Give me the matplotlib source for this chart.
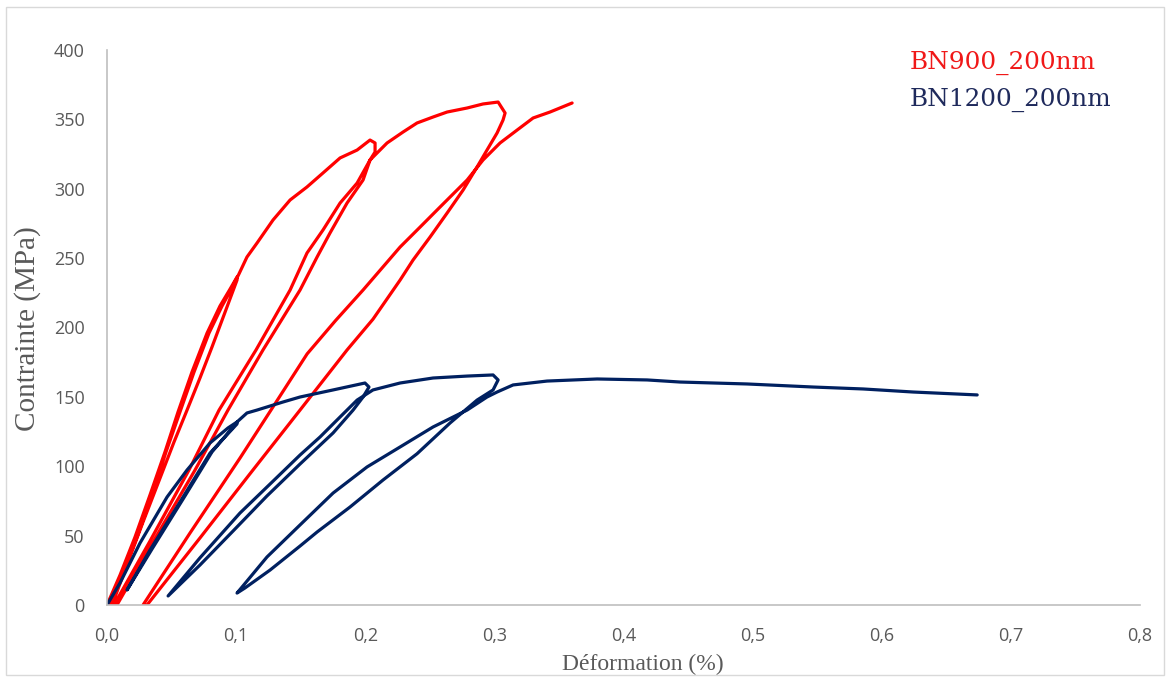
import matplotlib
matplotlib.use('Agg')
import matplotlib.pyplot as plt
from matplotlib.patches import Rectangle

# BN900_200nm : strain (%) and stress (MPa), in the order the test was run
bn900_strain = [
    # load 1
    0.0000, 0.0101, 0.0217, 0.0333, 0.0449, 0.0550, 0.0658, 0.0775, 0.0875, 0.0953, 0.1007,
    # unload 1
    0.1007, 0.0906, 0.0813, 0.0720, 0.0620, 0.0519, 0.0411, 0.0279, 0.0163, 0.0039,
    # reload up to peak 2
    0.0023, 0.0116, 0.0232, 0.0349, 0.0457, 0.0565, 0.0674, 0.0790, 0.0891, 0.0968, 0.1022,
    0.1084, 0.1162, 0.1286, 0.1418, 0.1549, 0.1673, 0.1805, 0.1937, 0.2037, 0.2076, 0.2076,
    # unload 2
    0.2037, 0.1983, 0.1859, 0.1727, 0.1627, 0.1495, 0.1208, 0.0937, 0.0682, 0.0411, 0.0077,
    # reload up to peak 3
    0.0054, 0.0333, 0.0635, 0.0868, 0.1154, 0.1418, 0.1549, 0.1673, 0.1805, 0.1937, 0.2037,
    0.2169, 0.2293, 0.2401, 0.2525, 0.2634, 0.2789, 0.2912, 0.3029, 0.3083,
    # unload 3
    0.3067, 0.3021, 0.2943, 0.2866, 0.2758, 0.2634, 0.2502, 0.2370, 0.2270, 0.2060, 0.1859,
    0.1495, 0.1100, 0.0720, 0.0310,
    # reload to the end
    0.0279, 0.0643, 0.1030, 0.1270, 0.1550, 0.1770, 0.1983, 0.2270, 0.2425, 0.2579, 0.2789,
    0.2912, 0.3044, 0.3176, 0.3300, 0.3431, 0.3602,
]
bn900_stress = [
    0.0, 21.6, 49.0, 79.3, 110.3, 139.1, 167.9, 196.0, 215.5, 227.7, 236.4,
    234.2, 209.0, 185.9, 163.6, 140.5, 117.5, 91.5, 59.8, 31.0, 0.0,
    0.0, 21.6, 49.0, 79.3, 110.3, 139.1, 167.9, 196.0, 215.5, 228.5, 238.6,
    250.8, 260.9, 277.5, 291.9, 301.3, 311.4, 322.2, 327.9, 335.1, 333.0, 326.5,
    320.7, 306.3, 289.7, 268.1, 250.8, 227.0, 183.8, 140.5, 97.3, 54.1, 0.0,
    0.0, 46.1, 97.3, 140.5, 183.8, 227.0, 253.7, 270.3, 289.7, 304.1, 320.7,
    333.0, 340.9, 347.4, 351.7, 355.3, 358.2, 361.1, 362.5, 354.6,
    349.5, 340.2, 327.9, 315.7, 299.1, 282.5, 265.2, 248.6, 234.2, 206.0, 183.8,
    140.5, 93.7, 48.3, 0.0,
    0.0, 51.9, 105.9, 140.5, 181.0, 205.0, 227.0, 258.0, 272.4, 286.8, 306.3,
    320.7, 333.0, 342.3, 351.0, 355.3, 361.8,
]

# BN1200_200nm
bn1200_strain = [
    # load 1
    0.0000, 0.0101, 0.0256, 0.0465, 0.0620, 0.0798, 0.0937, 0.1007,
    # unload 1
    0.1007, 0.0798, 0.0589, 0.0333, 0.0155,
    # reload up to peak 2
    0.0349, 0.0604, 0.0813, 0.1015, 0.1084, 0.1162, 0.1363, 0.1495, 0.1751, 0.1998, 0.2029,
    # unload 2
    0.1983, 0.1906, 0.1751, 0.1495, 0.1239, 0.0976, 0.0720, 0.0473,
    # reload up to peak 3
    0.0720, 0.1030, 0.1263, 0.1495, 0.1650, 0.1805, 0.1937, 0.2060, 0.2270, 0.2525, 0.2789,
    0.2990, 0.3029,
    # unload 3
    0.2990, 0.2866, 0.2657, 0.2401, 0.2138, 0.1882, 0.1627, 0.1495, 0.1263, 0.1069, 0.1007,
    # reload to the end
    0.1239, 0.1495, 0.1751, 0.2014, 0.2270, 0.2525, 0.2789, 0.2943, 0.3021, 0.3145, 0.3408,
    0.3796, 0.4183, 0.4438, 0.4957, 0.5469, 0.5856, 0.6243, 0.6739,
]
bn1200_stress = [
    0.0, 15.9, 44.7, 77.8, 97.3, 116.8, 127.6, 131.9,
    130.5, 109.5, 77.8, 39.6, 10.8,
    40.4, 78.6, 110.3, 132.6, 138.4, 140.5, 146.3, 149.9, 155.0, 160.0, 157.1,
    149.9, 140.5, 124.0, 101.6, 78.6, 53.3, 28.8, 6.5,
    34.0, 66.3, 87.2, 108.1, 121.1, 135.5, 147.7, 155.0, 160.0, 163.6, 165.0,
    165.8, 162.2,
    155.0, 147.7, 131.2, 109.0, 90.1, 70.6, 52.6, 42.5, 25.2, 12.3, 8.6,
    34.6, 57.7, 80.7, 99.5, 113.9, 128.3, 140.5, 149.9, 153.5, 158.6, 161.4,
    162.9, 162.2, 160.7, 159.3, 157.1, 155.7, 153.5, 151.4,
]

x_ticks = [0.0, 0.1, 0.2, 0.3, 0.4, 0.5, 0.6, 0.7, 0.8]
y_ticks = [0, 50, 100, 150, 200, 250, 300, 350, 400]

red = '#FF0000'
navy = '#002060'
grey = '#595959'

fig = plt.figure(figsize=(11.71, 6.82), dpi=100)
ax = fig.add_axes([107 / 1171, 77 / 682, 1033 / 1171, 555 / 682])

ax.plot(bn900_strain, bn900_stress, color=red, lw=2.3,
        solid_joinstyle='round', solid_capstyle='round')
ax.plot(bn1200_strain, bn1200_stress, color=navy, lw=2.3,
        solid_joinstyle='round', solid_capstyle='round')

ax.set_xlim(0, 0.8)
ax.set_ylim(0, 400)
ax.set_xticks(x_ticks)
ax.set_xticklabels([f'{v:.1f}'.replace('.', ',') for v in x_ticks])
ax.set_yticks(y_ticks)
ax.set_yticklabels([str(v) for v in y_ticks])
ax.tick_params(length=0, labelsize=13, labelcolor=grey, pad=0)
ax.tick_params(axis='x', pad=16)
ax.tick_params(axis='y', pad=16)
for lab in ax.get_xticklabels() + ax.get_yticklabels():
    lab.set_family('Open Sans')

for side in ['top', 'right']:
    ax.spines[side].set_visible(False)
ax.spines['left'].set_color('#BFBFBF')
ax.spines['bottom'].set_color('#BFBFBF')
ax.spines['left'].set_linewidth(1.2)
ax.spines['bottom'].set_linewidth(1.2)

# axis titles
fig.text(643 / 1171, 1 - 664 / 682, 'Déformation (%)', ha='center', va='center',
         fontsize=17, color=grey, family='Liberation Serif')
fig.text(28 / 1171, 1 - 329 / 682, 'Contrainte (MPa)', ha='center', va='center',
         rotation=90, fontsize=21, color=grey, family='Liberation Serif')

# legend written as plain coloured text
fig.text(910 / 1171, 1 - 63 / 682, 'BN900_200nm', ha='left', va='center',
         fontsize=17.8, color='#F01818', family='DejaVu Serif')
fig.text(910 / 1171, 1 - 100 / 682, 'BN1200_200nm', ha='left', va='center',
         fontsize=17.8, color='#1F2A5C', family='DejaVu Serif')

# thin frame around the chart
fig.patches.append(Rectangle((6 / 1171, 7 / 682), 1158 / 1171, 668 / 682,
                             transform=fig.transFigure, fill=False,
                             edgecolor='#D9D9D9', lw=1))

fig.savefig('out.png', dpi=100)
